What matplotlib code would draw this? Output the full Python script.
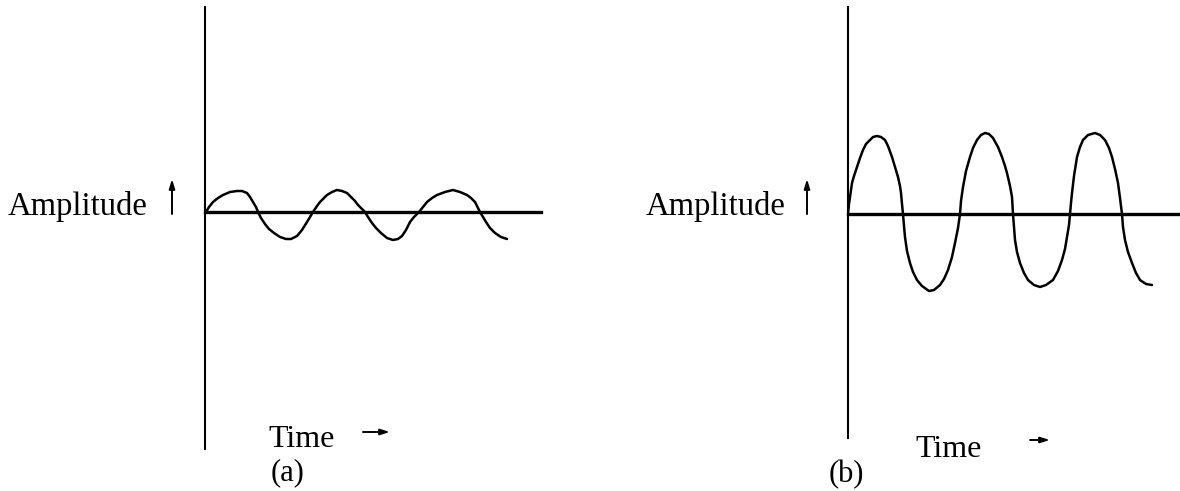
import matplotlib.pyplot as plt

# 读取自图片的波形数据 (时间, 振幅), 单位任意
time_a = [1, 4, 8, 13, 18, 25, 32, 37, 42, 45, 48, 51, 53,
          56, 60, 64, 69, 75, 81, 86, 92, 97, 102, 105, 108,
          112, 115, 118, 122, 127, 132, 137, 142, 146, 150, 153, 157, 160,
          163, 167, 171, 176, 182, 188, 193, 197, 201, 205, 209, 214,
          218, 222, 227, 232, 240, 248, 255, 262, 266, 270, 273, 275,
          278, 281, 285, 290, 296, 302]
amp_a = [0, 5, 10, 14, 17, 20, 21, 21, 19, 15, 10, 5, 0,
         -6, -12, -17, -21, -25, -27, -27, -24, -18, -10, -5, 0,
         6, 10, 13, 17, 20, 22, 21, 19, 15, 11, 7, 3, 0,
         -5, -11, -16, -21, -26, -28, -27, -24, -18, -10, -5, 0,
         5, 10, 14, 17, 20, 22, 20, 17, 14, 10, 4, 0,
         -5, -10, -16, -21, -25, -27]

time_b = [0, 1, 2, 4, 6, 9, 12, 15, 18, 22, 25, 29, 33, 37, 40, 44, 47, 50, 52,
          53, 54, 55, 56, 57, 59, 62, 65, 69, 74, 81, 86, 92, 96, 100, 104, 107,
          110, 112, 113, 115, 118, 122, 125, 129, 133, 137, 141, 145, 150, 154,
          157, 159, 162, 164, 165, 167, 169, 172, 176, 180, 186, 192, 198, 205,
          210, 214, 217, 219, 221, 222, 223, 224, 226, 229, 232, 235, 240, 247,
          252, 257, 261, 264, 267, 270, 272, 274, 275, 277, 280, 284, 288, 292,
          298, 304]
amp_b = [0, 10, 17, 31, 38, 47, 56, 64, 70, 74, 77, 78, 77, 74, 68, 57, 47, 37, 28,
         21, 10, 0, -12, -23, -37, -49, -58, -66, -72, -77, -76, -71, -65, -56, -43, -29,
         -14, 0, 13, 27, 43, 57, 66, 74, 79, 81, 80, 76, 67, 57,
         48, 41, 28, 17, 0, -26, -38, -49, -59, -66, -71, -73, -71, -66,
         -57, -46, -35, -23, -11, 0, 11, 21, 38, 57, 67, 74, 79, 81,
         79, 74, 66, 57, 45, 31, 16, 0, -13, -26, -38, -49, -59, -66,
         -70, -71]

W, H = 1180, 491
FONT = ['Liberation Serif', 'DejaVu Serif']


def box(left, right, top, bottom):
    # 像素(左上原点) -> figure 坐标
    return [left / W, 1 - bottom / H, (right - left) / W, (bottom - top) / H]


def fx(x):
    return x / W


def fy(y):
    return 1 - y / H


def arrow(ax, x0, y0, x1, y1):
    ax.annotate('', xy=(fx(x1), fy(y1)), xytext=(fx(x0), fy(y0)),
                xycoords='figure fraction', textcoords='figure fraction',
                arrowprops=dict(arrowstyle='-|>,head_length=0.55,head_width=0.17',
                                lw=1.4, color='black', shrinkA=0, shrinkB=0))


fig = plt.figure(figsize=(W / 100, H / 100), dpi=100)

panels = [
    dict(t=time_a, a=amp_a, rect=box(205, 541, 7, 449), xlim=(0, 336), ylim=(-237, 205),
         amp_x=148, arr_x=172, time_x=268, tarr=(363, 390), tarr_y=432, time_y=447,
         lab='(a)', lab_x=288, lab_y=480),
    dict(t=time_b, a=amp_b, rect=box(848, 1180, 7, 438), xlim=(0, 332), ylim=(-224, 207),
         amp_x=785, arr_x=807, time_x=915, tarr=(1030, 1050), tarr_y=440, time_y=457,
         lab='(b)', lab_x=846, lab_y=482),
]

for p in panels:
    ax = fig.add_axes(p['rect'])
    ax.plot(p['t'], p['a'], color='black', lw=1.8, solid_joinstyle='round',
            solid_capstyle='round')
    ax.set_xlim(*p['xlim'])
    ax.set_ylim(*p['ylim'])
    ax.spines['left'].set_linewidth(1.5)
    ax.spines['bottom'].set_position(('data', 0))
    ax.spines['bottom'].set_linewidth(2.4)
    ax.spines['top'].set_visible(False)
    ax.spines['right'].set_visible(False)
    ax.set_xticks([])
    ax.set_yticks([])
    ax.patch.set_alpha(0)

    fig.text(fx(p['amp_x']), fy(215), 'Amplitude', ha='right', va='baseline',
             family=FONT, fontsize=23.5)
    arrow(ax, p['arr_x'], 214, p['arr_x'], 179)
    fig.text(fx(p['time_x']), fy(p['time_y']), 'Time', ha='left', va='baseline',
             family=FONT, fontsize=23)
    arrow(ax, p['tarr'][0], p['tarr_y'], p['tarr'][1], p['tarr_y'])
    fig.text(fx(p['lab_x']), fy(p['lab_y']), p['lab'], ha='center', va='baseline',
             family=FONT, fontsize=22)

fig.savefig('out.png', dpi=100)
